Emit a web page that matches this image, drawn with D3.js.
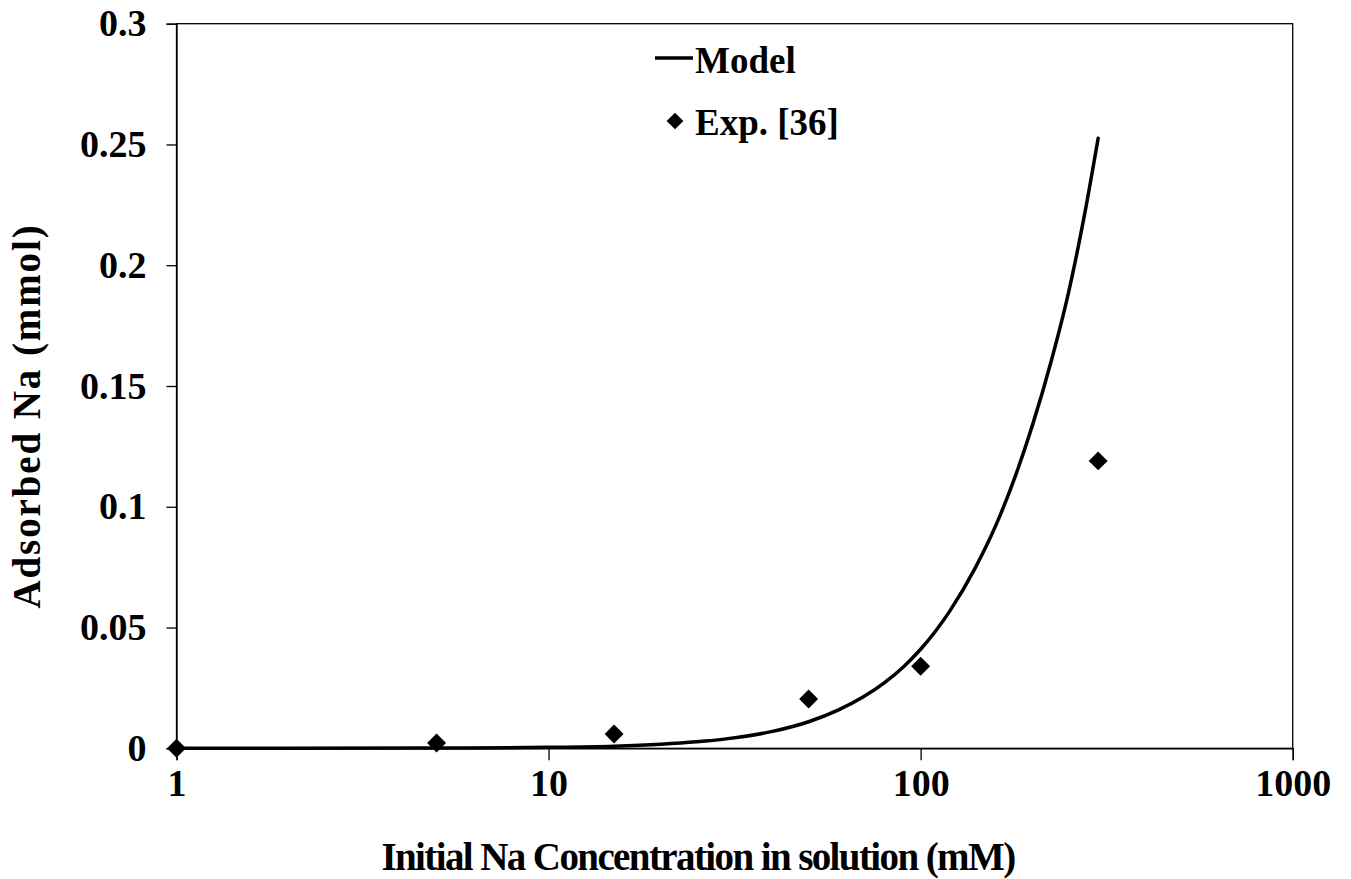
<!DOCTYPE html>
<html>
<head>
<meta charset="utf-8">
<script src="https://cdn.jsdelivr.net/npm/d3@7"></script>
<style>
  body { margin: 0; background: #fff; }
  svg text { font-family: "Liberation Serif", "Times New Roman", serif; font-weight: bold; fill: #000; }
</style>
</head>
<body>
<div id="chart"></div>
<script>
// model curve
var modelConc = [1, 2, 5, 10, 15, 20, 25, 30, 40, 50, 60, 70, 80, 90, 100, 120, 140, 160, 180, 200, 225, 250, 275, 300];
var modelNa   = [0, 0.00003, 0.0001, 0.0004, 0.0009, 0.0017, 0.0027, 0.0039, 0.007, 0.011, 0.0158, 0.0212, 0.0272, 0.0338,
                 0.041, 0.057, 0.0745, 0.093, 0.113, 0.134, 0.161, 0.189, 0.22, 0.2526];

// experimental points, Exp. [36]
var expConc = [1, 5, 15, 50, 100, 300];
var expNa   = [0, 0.0022, 0.0059, 0.0204, 0.034, 0.119];

var xTicks = [1, 10, 100, 1000];
var yTicks = [0, 0.05, 0.1, 0.15, 0.2, 0.25, 0.3];

var width = 1351, height = 879,
    margin = {top: 23.7, right: 58.3, bottom: 130.7, left: 176.5},
    w = width - margin.left - margin.right,
    h = height - margin.top - margin.bottom;

var svg = d3.select("#chart").append("svg")
    .attr("width", width)
    .attr("height", height);

var g = svg.append("g")
    .attr("transform", "translate(" + margin.left + "," + margin.top + ")");

var x = d3.scaleLog().domain([1, 1000]).range([0, w]),
    y = d3.scaleLinear().domain([0, 0.3]).range([h, 0]);

// frame
g.append("rect")
    .attr("width", w)
    .attr("height", h)
    .attr("fill", "none")
    .attr("stroke", "#000")
    .attr("stroke-width", 1.3);

var xAxis = g.append("g")
    .attr("transform", "translate(0," + h + ")")
    .call(d3.axisBottom(x).tickValues(xTicks).tickFormat(d3.format("d")).tickSize(12).tickPadding(9));

var yAxis = g.append("g")
    .call(d3.axisLeft(y).tickValues(yTicks).tickFormat(function(d) { return d === 0 ? "0" : String(+d.toFixed(2)); })
        .tickSize(10).tickPadding(20));

[xAxis, yAxis].forEach(function(a) {
    a.select(".domain").attr("stroke-width", 1.3);
    a.selectAll(".tick line").attr("stroke-width", 1.3);
    a.selectAll("text").style("font-size", "38px").attr("font-family", null);
});
xAxis.selectAll("text").attr("dy", "0.71em");

// model line
var line = d3.line()
    .x(function(d) { return x(d[0]); })
    .y(function(d) { return y(d[1]); })
    .curve(d3.curveMonotoneX);

g.append("path")
    .datum(d3.zip(modelConc, modelNa))
    .attr("fill", "none")
    .attr("stroke", "#000")
    .attr("stroke-width", 3.5)
    .attr("stroke-linecap", "round")
    .attr("d", line);

// experimental diamonds
var diamond = d3.symbol().type(d3.symbolSquare).size(180);
g.selectAll(".pt")
    .data(d3.zip(expConc, expNa))
    .enter().append("path")
    .attr("class", "pt")
    .attr("d", diamond)
    .attr("fill", "#000")
    .attr("transform", function(d) { return "translate(" + x(d[0]) + "," + y(d[1]) + ") rotate(45)"; });

// axis titles
svg.append("text")
    .attr("x", 698)
    .attr("y", 870)
    .attr("text-anchor", "middle")
    .style("font-size", "39px")
    .style("letter-spacing", "-1.6px")
    .text("Initial Na Concentration in solution (mM)");

svg.append("text")
    .attr("transform", "translate(40,416) rotate(-90)")
    .attr("text-anchor", "middle")
    .style("font-size", "39px")
    .style("letter-spacing", "1.9px")
    .text("Adsorbed Na (mmol)");

// legend
var legend = svg.append("g");
legend.append("line")
    .attr("x1", 655).attr("x2", 693)
    .attr("y1", 58).attr("y2", 58)
    .attr("stroke", "#000").attr("stroke-width", 3.5);
legend.append("text")
    .attr("x", 695).attr("y", 73)
    .style("font-size", "37px")
    .text("Model");
legend.append("path")
    .attr("d", d3.symbol().type(d3.symbolSquare).size(140))
    .attr("transform", "translate(675,121) rotate(45)");
legend.append("text")
    .attr("x", 695).attr("y", 135)
    .style("font-size", "37px")
    .text("Exp. [36]");
</script>
</body>
</html>
